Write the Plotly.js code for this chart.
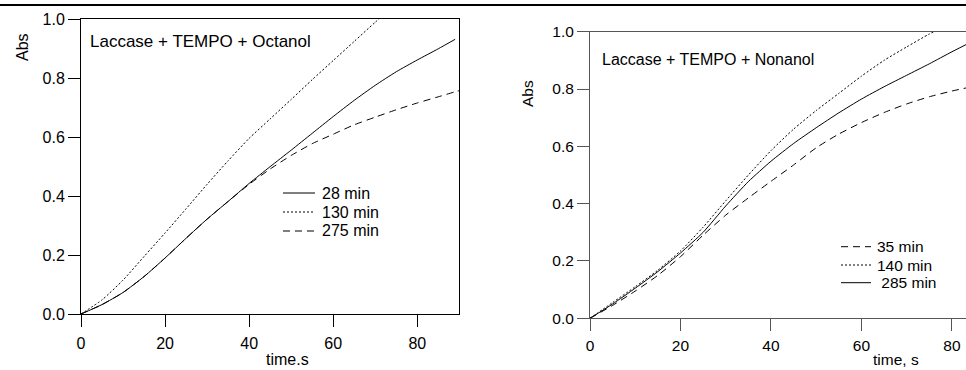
<!DOCTYPE html>
<html><head><meta charset="utf-8">
<script src="https://cdn.plot.ly/plotly-3.0.1.min.js"></script>
<style>html,body{margin:0;padding:0;background:#fff;} #chart{width:966px;height:370px;}</style>
</head><body><div id="chart"></div>
<script>
// ---- data ----
const timeLeft   = [0, 5, 10, 15, 20, 25, 30, 35, 40, 45, 50, 55, 60, 65, 70, 75, 80, 85, 89, 90];
const octanol28  = [0, 0.032, 0.073, 0.127, 0.19, 0.257, 0.322, 0.382, 0.443, 0.5, 0.556, 0.613, 0.67, 0.725, 0.776, 0.822, 0.862, 0.9, 0.932, null];
const octanol130 = [0, 0.048, 0.115, 0.195, 0.275, 0.357, 0.44, 0.52, 0.596, 0.662, 0.728, 0.795, 0.86, 0.925, 0.99, 1.05, null, null, null, null];
const octanol275 = [0, 0.032, 0.073, 0.127, 0.19, 0.257, 0.322, 0.382, 0.44, 0.492, 0.538, 0.578, 0.61, 0.642, 0.668, 0.693, 0.716, 0.737, 0.754, 0.758];

const timeRight  = [0, 5, 10, 15, 20, 25, 30, 35, 40, 45, 50, 55, 60, 65, 70, 75, 80, 85];
const nonanol35  = [0, 0.045, 0.095, 0.15, 0.215, 0.29, 0.36, 0.42, 0.478, 0.535, 0.595, 0.643, 0.683, 0.718, 0.748, 0.773, 0.793, 0.81];
const nonanol140 = [0, 0.055, 0.11, 0.168, 0.235, 0.318, 0.41, 0.5, 0.585, 0.66, 0.725, 0.785, 0.845, 0.9, 0.947, 0.992, 1.03, 1.06];
const nonanol285 = [0, 0.05, 0.105, 0.163, 0.228, 0.3, 0.392, 0.477, 0.548, 0.61, 0.665, 0.717, 0.765, 0.808, 0.848, 0.888, 0.93, 0.97];

const leftLabels  = ['28 min', '130 min', '275 min'];
const rightLabels = ['35 min', '140 min', '\u00a0285 min'];
const xTickVals   = [0, 20, 40, 60, 80];
const xTickText   = ['0', '20', '40', '60', '80'];
const yTickVals   = [0, 0.2, 0.4, 0.6, 0.8, 1.0];
const yTickText   = ['0.0', '0.2', '0.4', '0.6', '0.8', '1.0'];
const leftTitle   = 'Laccase + TEMPO + Octanol';
const rightTitle  = 'Laccase + TEMPO + Nonanol';

// ---- helpers ----
const W = 966, H = 370;
const px = v => v / W;
const py = v => 1 - v / H;
const DOT = '2px,2px', DASH = '7px,5px';

function tr(x, y, dash, xa, ya, name) {
  return {x: x, y: y, mode: 'lines', name: name, showlegend: false, hoverinfo: 'skip',
    xaxis: xa, yaxis: ya, connectgaps: false,
    line: {color: '#000', width: 1, dash: dash, shape: 'spline', smoothing: 0.6}};
}

const data = [
  tr(timeLeft, octanol28, 'solid', 'x', 'y', leftLabels[0]),
  tr(timeLeft, octanol130, DOT, 'x', 'y', leftLabels[1]),
  tr(timeLeft, octanol275, DASH, 'x', 'y', leftLabels[2]),
  tr(timeRight, nonanol35, DASH, 'x2', 'y2', rightLabels[0]),
  tr(timeRight, nonanol140, DOT, 'x2', 'y2', rightLabels[1]),
  tr(timeRight, nonanol285, 'solid', 'x2', 'y2', rightLabels[2])
];

function axis(extra, color, size) {
  return Object.assign({
    showline: true, linecolor: color, linewidth: 1, ticks: 'outside', ticklen: 12,
    tickcolor: color, tickwidth: 1, showgrid: false, zeroline: false, automargin: false,
    fixedrange: true, tickfont: {size: size, color: '#000'}
  }, extra);
}

const shapes = [
  {type: 'line', xref: 'paper', yref: 'paper', x0: 0, x1: 1, y0: py(5), y1: py(5), line: {color: '#000', width: 2}}
];
const annotations = [];
function ann(text, x, y, size, opts) {
  annotations.push(Object.assign({text: text, x: px(x), y: py(y), xref: 'paper', yref: 'paper',
    showarrow: false, xanchor: 'left', yanchor: 'middle', font: {size: size, color: '#000'}}, opts || {}));
}

// left legend
const leftDash = ['solid', DOT, DASH];
[193, 212, 231].forEach((row, i) => {
  shapes.push({type: 'line', xref: 'paper', yref: 'paper', x0: px(283), x1: px(315), y0: py(row), y1: py(row),
    line: {color: '#000', width: 1, dash: leftDash[i]}});
  ann(leftLabels[i], 320, row, 16);
});
// right legend
const rightDash = [DASH, DOT, 'solid'];
[246.7, 265, 282.7].forEach((row, i) => {
  shapes.push({type: 'line', xref: 'paper', yref: 'paper', x0: px(841), x1: px(871), y0: py(row), y1: py(row),
    line: {color: '#000', width: 1, dash: rightDash[i]}});
  ann(rightLabels[i], 875, row, 15.5);
});

ann(leftTitle, 88, 42, 17);
ann(rightTitle, 600, 59, 16);
ann('Abs', 22, 47, 16, {xanchor: 'center', textangle: -90});
ann('Abs', 527, 94, 15.5, {xanchor: 'center', textangle: -90});
ann('time.s', 287, 359, 16, {xanchor: 'center'});
ann('time, s', 896, 359, 15.5, {xanchor: 'center'});

const layout = {
  width: W, height: H, autosize: false,
  margin: {l: 0, r: 0, t: 0, b: 0, pad: 0},
  paper_bgcolor: '#fff', plot_bgcolor: '#fff',
  font: {family: 'Liberation Sans, Arial, sans-serif', color: '#000'},
  showlegend: false,
  xaxis: axis({domain: [px(81), px(459.3)], range: [0, 90], anchor: 'y', mirror: true, ticklabelstandoff: 3,
    tickmode: 'array', tickvals: xTickVals, ticktext: xTickText}, '#000', 16),
  yaxis: axis({domain: [py(314), py(19.3)], range: [0, 1], anchor: 'x', mirror: true,
    tickmode: 'array', tickvals: yTickVals, ticktext: yTickText}, '#000', 16),
  xaxis2: axis({domain: [px(590), 1], range: [0, 83.1], anchor: 'y2', mirror: true, ticklabelstandoff: 1,
    tickmode: 'array', tickvals: xTickVals, ticktext: xTickText}, '#555', 15.5),
  yaxis2: axis({domain: [py(318.3), py(31.7)], range: [0, 1], anchor: 'x2', mirror: false,
    tickmode: 'array', tickvals: yTickVals, ticktext: yTickText}, '#555', 15.5),
  shapes: shapes,
  annotations: annotations
};

Plotly.newPlot('chart', data, layout, {staticPlot: true, displayModeBar: false});
</script>
</body></html>
